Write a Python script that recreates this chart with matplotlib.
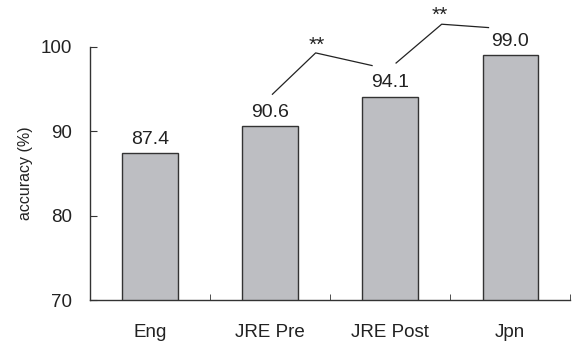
import matplotlib.pyplot as plt
import numpy as np

plt.rcParams['font.family'] = ['Liberation Sans', 'DejaVu Sans']

categories = ["Eng", "JRE Pre", "JRE Post", "Jpn"]
accuracy = [87.4, 90.6, 94.1, 99.0]

# significance brackets: (x points, y points), star position (baseline)
sig1_x = [1.02, 1.38, 1.85]
sig1_y = [94.4, 99.3, 97.8]
sig1_star = (1.39, 99.6)
sig2_x = [2.05, 2.43, 2.82]
sig2_y = [98.1, 102.7, 102.3]
sig2_star = (2.41, 103.1)

fig = plt.figure(figsize=(5.73, 3.43), dpi=100)
ax = fig.add_axes([0.157, 0.125, 0.838, 0.738])

x = np.arange(len(categories))
ax.bar(x, accuracy, width=0.46, color="#bdbec2", edgecolor="#333333", linewidth=1.0)

for xi, v in zip(x, accuracy):
    ax.text(xi, v + 0.65, f"{v:.1f}", ha="center", va="bottom", fontsize=14, color="#222222")

for sx, sy, st in [(sig1_x, sig1_y, sig1_star), (sig2_x, sig2_y, sig2_star)]:
    ax.plot(sx, sy, color="#222222", linewidth=0.9, clip_on=False)
    ax.text(st[0], st[1], "**", ha="center", va="baseline", fontsize=15, color="#222222")

ax.set_xlim(-0.5, 3.5)
ax.set_ylim(70, 100)
ax.set_yticks([70, 80, 90, 100])
ax.set_xticks(x)
ax.set_xticklabels(categories)
ax.set_xticks([0.5, 1.5, 2.5, 3.5], minor=True)
ax.tick_params(axis="x", which="major", length=0, pad=17, labelsize=13.5, colors="#222222")
ax.tick_params(axis="x", which="minor", direction="in", length=4, color="#333333")
ax.tick_params(axis="y", direction="in", length=5, pad=13, labelsize=13.5, colors="#222222")
ax.tick_params(axis="y", color="#333333")
for s in ["top", "right"]:
    ax.spines[s].set_visible(False)
for s in ["left", "bottom"]:
    ax.spines[s].set_color("#333333")
    ax.spines[s].set_linewidth(1.0)

ax.set_ylabel("accuracy (%)", fontsize=11.5, color="#222222")
ax.yaxis.set_label_coords(-0.119, 0.5)

fig.savefig("out.png", dpi=100)
